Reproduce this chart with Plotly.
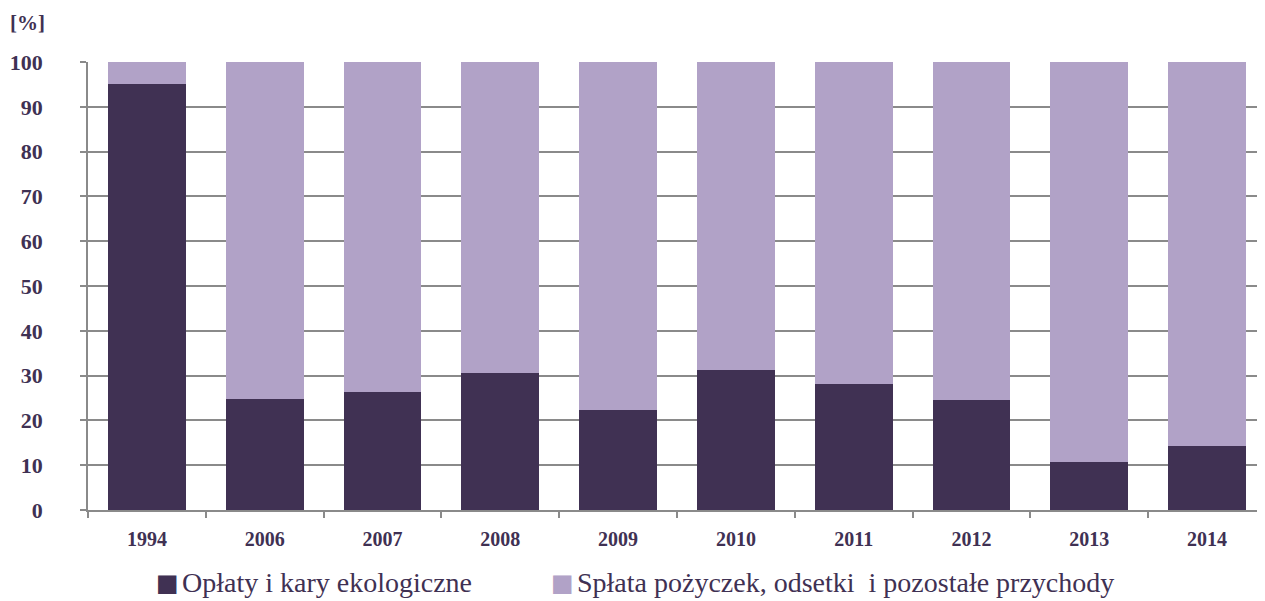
import plotly.graph_objects as go

years = ["1994", "2006", "2007", "2008", "2009", "2010", "2011", "2012", "2013", "2014"]
oplaty = [95.2, 24.8, 26.4, 30.6, 22.4, 31.3, 28.2, 24.6, 10.7, 14.3]
splata = [round(100 - v, 1) for v in oplaty]
y_ticks = [0, 10, 20, 30, 40, 50, 60, 70, 80, 90, 100]
series_names = ["Opłaty i kary ekologiczne", "Spłata pożyczek, odsetki  i pozostałe przychody"]

dark = "#403153"
light = "#b1a2c7"
grid = "#8a8a8a"
txt = "#3f3153"
serif = "Liberation Serif, Times New Roman, Times, serif"

fig = go.Figure()
fig.add_trace(go.Bar(x=years, y=oplaty, name=series_names[0],
                     marker=dict(color=dark, line=dict(width=0))))
fig.add_trace(go.Bar(x=years, y=splata, name=series_names[1],
                     marker=dict(color=light, line=dict(width=0))))

# legend drawn as text entries below the plot
leg_y = -0.162
annotations = [dict(text="<b>[%]</b>", xref="paper", yref="paper", x=-0.0514, y=1.087,
                    xanchor="center", yanchor="middle", showarrow=False,
                    font=dict(size=21, color=txt, family=serif))]
for name, col, sx, tx in [(series_names[0], dark, 0.0671, 0.0781),
                          (series_names[1], light, 0.4028, 0.4134)]:
    annotations.append(dict(text="■", xref="paper", yref="paper", x=sx, y=leg_y,
                            xanchor="center", yanchor="middle", showarrow=False,
                            font=dict(size=24, color=col, family="DejaVu Sans")))
    annotations.append(dict(text=name.replace("  ", "&nbsp; "), xref="paper", yref="paper",
                            x=tx, y=leg_y, xanchor="left", yanchor="middle", showarrow=False,
                            font=dict(size=28, color=txt, family=serif)))

fig.update_layout(
    width=1258, height=593,
    barmode="stack", bargap=0.34,
    plot_bgcolor="white", paper_bgcolor="white",
    margin=dict(l=80, r=0, t=54, b=91, autoexpand=False),
    font=dict(family=serif, color=txt),
    showlegend=False,
    annotations=annotations,
)
fig.update_yaxes(range=[0, 100], tickvals=y_ticks, showgrid=True, gridcolor=grid, gridwidth=1.5,
                 showline=True, linecolor=grid, linewidth=1.5, ticks="outside", ticklen=6,
                 tickcolor=grid, tickwidth=1.5, ticklabelstandoff=33,
                 tickfont=dict(size=22, color=txt, family=serif, weight="bold"),
                 zeroline=False)
fig.update_xaxes(type="category", showline=True, linecolor=grid, linewidth=1.5,
                 ticks="outside", tickson="boundaries", ticklen=6, tickcolor=grid, tickwidth=1.5,
                 ticklabelstandoff=10,
                 tickfont=dict(size=20, color=txt, family=serif, weight="bold"))

fig.write_html("out.html")
